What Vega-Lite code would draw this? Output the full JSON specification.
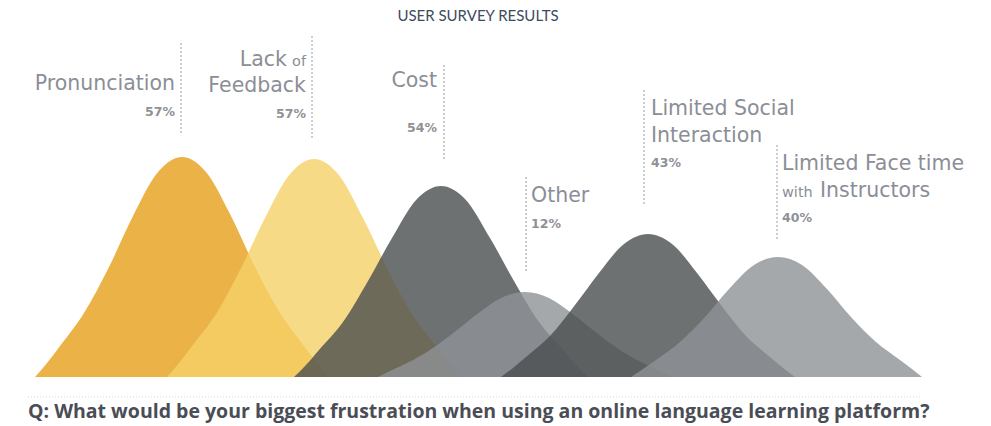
{
  "$schema": "https://vega.github.io/schema/vega-lite/v6.json",
  "width": 991,
  "height": 426,
  "autosize": {"type": "fit", "contains": "padding"},
  "padding": 0,
  "background": "white",
  "config": {"view": {"stroke": null}},
  "datasets": {
    "curves": [
      {"topic": "Pronunciation", "pos": 35, "height": 0},
      {"topic": "Pronunciation", "pos": 47, "height": 14},
      {"topic": "Pronunciation", "pos": 60, "height": 31},
      {"topic": "Pronunciation", "pos": 84, "height": 64},
      {"topic": "Pronunciation", "pos": 109, "height": 110},
      {"topic": "Pronunciation", "pos": 133, "height": 161},
      {"topic": "Pronunciation", "pos": 158, "height": 205},
      {"topic": "Pronunciation", "pos": 182, "height": 220},
      {"topic": "Pronunciation", "pos": 206, "height": 205},
      {"topic": "Pronunciation", "pos": 231, "height": 161},
      {"topic": "Pronunciation", "pos": 255, "height": 110},
      {"topic": "Pronunciation", "pos": 280, "height": 64},
      {"topic": "Pronunciation", "pos": 304, "height": 31},
      {"topic": "Pronunciation", "pos": 317, "height": 14},
      {"topic": "Pronunciation", "pos": 329, "height": 0},
      {"topic": "Lack of Feedback", "pos": 167, "height": 0},
      {"topic": "Lack of Feedback", "pos": 179, "height": 14},
      {"topic": "Lack of Feedback", "pos": 192, "height": 31},
      {"topic": "Lack of Feedback", "pos": 216, "height": 63},
      {"topic": "Lack of Feedback", "pos": 241, "height": 109},
      {"topic": "Lack of Feedback", "pos": 265, "height": 159},
      {"topic": "Lack of Feedback", "pos": 290, "height": 203},
      {"topic": "Lack of Feedback", "pos": 314, "height": 218},
      {"topic": "Lack of Feedback", "pos": 338, "height": 203},
      {"topic": "Lack of Feedback", "pos": 363, "height": 159},
      {"topic": "Lack of Feedback", "pos": 387, "height": 109},
      {"topic": "Lack of Feedback", "pos": 412, "height": 63},
      {"topic": "Lack of Feedback", "pos": 436, "height": 31},
      {"topic": "Lack of Feedback", "pos": 449, "height": 14},
      {"topic": "Lack of Feedback", "pos": 461, "height": 0},
      {"topic": "Cost", "pos": 294, "height": 0},
      {"topic": "Cost", "pos": 306, "height": 12},
      {"topic": "Cost", "pos": 319, "height": 27},
      {"topic": "Cost", "pos": 343, "height": 55},
      {"topic": "Cost", "pos": 368, "height": 96},
      {"topic": "Cost", "pos": 392, "height": 139},
      {"topic": "Cost", "pos": 417, "height": 178},
      {"topic": "Cost", "pos": 441, "height": 191},
      {"topic": "Cost", "pos": 465, "height": 178},
      {"topic": "Cost", "pos": 490, "height": 139},
      {"topic": "Cost", "pos": 514, "height": 96},
      {"topic": "Cost", "pos": 539, "height": 55},
      {"topic": "Cost", "pos": 563, "height": 27},
      {"topic": "Cost", "pos": 576, "height": 12},
      {"topic": "Cost", "pos": 588, "height": 0},
      {"topic": "Other", "pos": 378, "height": 0},
      {"topic": "Other", "pos": 390, "height": 6},
      {"topic": "Other", "pos": 403, "height": 12},
      {"topic": "Other", "pos": 427, "height": 25},
      {"topic": "Other", "pos": 452, "height": 43},
      {"topic": "Other", "pos": 476, "height": 62},
      {"topic": "Other", "pos": 501, "height": 79},
      {"topic": "Other", "pos": 525, "height": 85},
      {"topic": "Other", "pos": 549, "height": 79},
      {"topic": "Other", "pos": 574, "height": 62},
      {"topic": "Other", "pos": 598, "height": 43},
      {"topic": "Other", "pos": 623, "height": 25},
      {"topic": "Other", "pos": 647, "height": 12},
      {"topic": "Other", "pos": 660, "height": 6},
      {"topic": "Other", "pos": 672, "height": 0},
      {"topic": "Limited Social Interaction", "pos": 501, "height": 0},
      {"topic": "Limited Social Interaction", "pos": 513, "height": 9},
      {"topic": "Limited Social Interaction", "pos": 526, "height": 20},
      {"topic": "Limited Social Interaction", "pos": 550, "height": 41},
      {"topic": "Limited Social Interaction", "pos": 575, "height": 72},
      {"topic": "Limited Social Interaction", "pos": 599, "height": 104},
      {"topic": "Limited Social Interaction", "pos": 624, "height": 133},
      {"topic": "Limited Social Interaction", "pos": 648, "height": 143},
      {"topic": "Limited Social Interaction", "pos": 672, "height": 133},
      {"topic": "Limited Social Interaction", "pos": 697, "height": 104},
      {"topic": "Limited Social Interaction", "pos": 721, "height": 72},
      {"topic": "Limited Social Interaction", "pos": 746, "height": 41},
      {"topic": "Limited Social Interaction", "pos": 770, "height": 20},
      {"topic": "Limited Social Interaction", "pos": 783, "height": 9},
      {"topic": "Limited Social Interaction", "pos": 795, "height": 0},
      {"topic": "Limited Face time with Instructors", "pos": 631, "height": 0},
      {"topic": "Limited Face time with Instructors", "pos": 643, "height": 8},
      {"topic": "Limited Face time with Instructors", "pos": 656, "height": 17},
      {"topic": "Limited Face time with Instructors", "pos": 680, "height": 35},
      {"topic": "Limited Face time with Instructors", "pos": 705, "height": 60},
      {"topic": "Limited Face time with Instructors", "pos": 729, "height": 88},
      {"topic": "Limited Face time with Instructors", "pos": 754, "height": 112},
      {"topic": "Limited Face time with Instructors", "pos": 778, "height": 120},
      {"topic": "Limited Face time with Instructors", "pos": 802, "height": 112},
      {"topic": "Limited Face time with Instructors", "pos": 827, "height": 88},
      {"topic": "Limited Face time with Instructors", "pos": 851, "height": 60},
      {"topic": "Limited Face time with Instructors", "pos": 876, "height": 35},
      {"topic": "Limited Face time with Instructors", "pos": 900, "height": 17},
      {"topic": "Limited Face time with Instructors", "pos": 912, "height": 8},
      {"topic": "Limited Face time with Instructors", "pos": 922, "height": 0}
    ],
    "guides": [
      {"topic": "Pronunciation", "pos": 181, "top": 334, "bottom": 242},
      {"topic": "Lack of Feedback", "pos": 312, "top": 341, "bottom": 238},
      {"topic": "Cost", "pos": 444, "top": 312, "bottom": 217},
      {"topic": "Other", "pos": 526, "top": 200, "bottom": 104},
      {"topic": "Limited Social Interaction", "pos": 644, "top": 287, "bottom": 173},
      {"topic": "Limited Face time with Instructors", "pos": 777, "top": 232, "bottom": 137}
    ],
    "labels": [
      {"text": "Pronunciation", "role": "name", "side": "before", "pos": 175, "height": 287},
      {"text": "57%", "role": "pct", "side": "before", "pos": 175, "height": 261},
      {"text": "Lack", "role": "name", "side": "before", "pos": 287, "height": 311},
      {"text": "of", "role": "aside", "side": "before", "pos": 306, "height": 311},
      {"text": "Feedback", "role": "name", "side": "before", "pos": 306, "height": 285},
      {"text": "57%", "role": "pct", "side": "before", "pos": 306, "height": 259},
      {"text": "Cost", "role": "name", "side": "before", "pos": 437, "height": 290},
      {"text": "54%", "role": "pct", "side": "before", "pos": 437, "height": 245},
      {"text": "Other", "role": "name", "side": "after", "pos": 531, "height": 175},
      {"text": "12%", "role": "pct", "side": "after", "pos": 531, "height": 149},
      {"text": "Limited Social", "role": "name", "side": "after", "pos": 651, "height": 262},
      {"text": "Interaction", "role": "name", "side": "after", "pos": 651, "height": 235},
      {"text": "43%", "role": "pct", "side": "after", "pos": 651, "height": 210},
      {"text": "Limited Face time", "role": "name", "side": "after", "pos": 782, "height": 207},
      {"text": "with", "role": "aside", "side": "after", "pos": 782, "height": 180},
      {"text": "Instructors", "role": "name", "side": "after", "pos": 820, "height": 180},
      {"text": "40%", "role": "pct", "side": "after", "pos": 782, "height": 155}
    ],
    "header": [
      {"text": "USER SURVEY RESULTS", "pos": 478, "height": 356}
    ],
    "footer": [
      {"text": "Q: What would be your biggest frustration when using an online language learning platform?", "pos": 28, "end": 921, "height": -41, "line": -20}
    ]
  },
  "encoding": {
    "x": {"field": "pos", "type": "quantitative", "scale": {"domain": [0, 991], "nice": false, "zero": false}, "axis": null},
    "y": {"field": "height", "type": "quantitative", "scale": {"domain": [-49, 377], "nice": false, "zero": false}, "axis": null}
  },
  "layer": [
    {
      "data": {"name": "curves"},
      "mark": {"type": "area", "interpolate": "monotone", "opacity": 0.8},
      "encoding": {
        "y": {"field": "height", "type": "quantitative", "stack": null},
        "color": {"field": "topic", "type": "nominal", "legend": null,
          "scale": {"domain": ["Pronunciation", "Lack of Feedback", "Cost", "Other", "Limited Social Interaction", "Limited Face time with Instructors"],
                    "range": ["#E69F1A", "#F5D168", "#4A4E4F", "#8F9296", "#4A4E4F", "#8F9296"]}}
      }
    },
    {
      "data": {"name": "guides"},
      "mark": {"type": "rule", "color": "#9C9C9C", "strokeWidth": 1, "strokeDash": [2, 2]},
      "encoding": {
        "y": {"field": "top", "type": "quantitative"},
        "y2": {"field": "bottom"}
      }
    },
    {
      "data": {"name": "footer"},
      "mark": {"type": "rule", "color": "#D4D4D4", "strokeWidth": 1, "strokeDash": [1, 2]},
      "encoding": {
        "x2": {"field": "end"},
        "y": {"field": "line", "type": "quantitative"}
      }
    },
    {
      "data": {"name": "footer"},
      "mark": {"type": "text", "align": "left", "baseline": "alphabetic", "font": "Open Sans", "fontWeight": "bold", "fontSize": 19.5, "color": "#4A4D55"},
      "encoding": {"text": {"field": "text"}}
    },
    {
      "data": {"name": "header"},
      "mark": {"type": "text", "align": "center", "baseline": "alphabetic", "font": "Lato", "fontWeight": "normal", "fontSize": 15, "color": "#3E4A60"},
      "encoding": {"text": {"field": "text"}}
    },
    {
      "data": {"name": "labels"},
      "transform": [{"filter": "datum.role === 'name'"}],
      "mark": {"type": "text", "align": {"expr": "datum.side === 'before' ? 'right' : 'left'"}, "baseline": "alphabetic", "font": "DejaVu Sans", "fontSize": 20.5, "color": "#8B8E96"},
      "encoding": {"text": {"field": "text"}}
    },
    {
      "data": {"name": "labels"},
      "transform": [{"filter": "datum.role === 'pct'"}],
      "mark": {"type": "text", "align": {"expr": "datum.side === 'before' ? 'right' : 'left'"}, "baseline": "alphabetic", "font": "DejaVu Sans", "fontWeight": "bold", "fontSize": 12.5, "color": "#8F9196"},
      "encoding": {"text": {"field": "text"}}
    },
    {
      "data": {"name": "labels"},
      "transform": [{"filter": "datum.role === 'aside'"}],
      "mark": {"type": "text", "align": {"expr": "datum.side === 'before' ? 'right' : 'left'"}, "baseline": "alphabetic", "font": "DejaVu Sans", "fontSize": 14.5, "color": "#8B8E96"},
      "encoding": {"text": {"field": "text"}}
    }
  ]
}
